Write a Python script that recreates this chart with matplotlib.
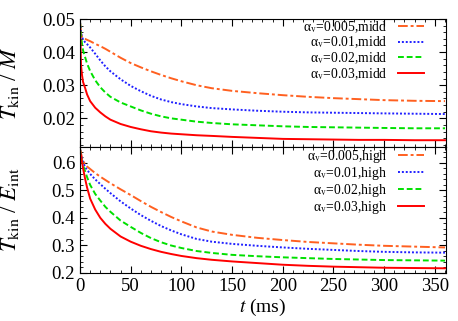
import numpy as np
import matplotlib
matplotlib.use('Agg')
import matplotlib.pyplot as plt
from matplotlib.ticker import MultipleLocator

plt.rcParams['font.family'] = ['Liberation Serif', 'DejaVu Serif']
plt.rcParams['mathtext.fontset'] = 'stix'

# time grid (ms)
t = [0, 1, 2, 3, 5, 7, 10, 15, 20, 25, 30, 40, 50, 60, 70, 80, 90, 100,
     115, 130, 150, 175, 200, 225, 250, 275, 300, 330, 360]

# T_kin / M  (middle resolution)
mid_005 = [0.049, 0.046, 0.0445, 0.0442, 0.044, 0.0437, 0.0433, 0.0425, 0.0418, 0.041, 0.0401, 0.0383, 0.0367,
           0.0354, 0.0342, 0.0331, 0.0321, 0.0312, 0.03, 0.0291, 0.0283, 0.0276, 0.027, 0.0265, 0.0261, 0.0258,
           0.0255, 0.0253, 0.0252]
mid_01 = [0.049, 0.046, 0.0445, 0.0438, 0.043, 0.0424, 0.0414, 0.0395, 0.0375, 0.0357, 0.0342, 0.0318, 0.0298,
          0.0282, 0.0268, 0.0257, 0.0249, 0.0243, 0.0236, 0.0231, 0.0227, 0.0223, 0.022, 0.0218, 0.0217, 0.0216,
          0.0215, 0.0214, 0.0213]
mid_02 = [0.049, 0.045, 0.0425, 0.0405, 0.0385, 0.0365, 0.0343, 0.0315, 0.0294, 0.0278, 0.0265, 0.0248, 0.0236,
          0.0224, 0.0214, 0.0206, 0.02, 0.0196, 0.019, 0.0186, 0.0182, 0.0179, 0.0176, 0.0174, 0.0173, 0.0172,
          0.0171, 0.017, 0.017]
mid_03 = [0.049, 0.036, 0.033, 0.031, 0.0292, 0.0272, 0.0252, 0.0232, 0.0218, 0.0206, 0.0196, 0.0183, 0.0174,
          0.0167, 0.0161, 0.0157, 0.0154, 0.0152, 0.0149, 0.0147, 0.0144, 0.0141, 0.0138, 0.0137, 0.0136, 0.0135,
          0.0135, 0.0134, 0.0134]

# T_kin / E_int  (high resolution)
high_005 = [0.65, 0.635, 0.62, 0.608, 0.595, 0.587, 0.578, 0.563, 0.55, 0.538, 0.526, 0.504, 0.483, 0.461, 0.44,
            0.421, 0.403, 0.387, 0.365, 0.35, 0.338, 0.327, 0.319, 0.312, 0.307, 0.302, 0.298, 0.295, 0.292]
high_01 = [0.65, 0.632, 0.615, 0.603, 0.585, 0.575, 0.56, 0.54, 0.523, 0.506, 0.49, 0.46, 0.434, 0.41, 0.389,
           0.37, 0.354, 0.34, 0.323, 0.313, 0.305, 0.298, 0.292, 0.287, 0.283, 0.279, 0.276, 0.274, 0.273]
high_02 = [0.65, 0.625, 0.605, 0.592, 0.57, 0.548, 0.52, 0.487, 0.463, 0.44, 0.422, 0.39, 0.367, 0.345, 0.326,
           0.311, 0.299, 0.29, 0.279, 0.272, 0.265, 0.26, 0.256, 0.253, 0.25, 0.248, 0.246, 0.245, 0.244]
high_03 = [0.65, 0.625, 0.604, 0.58, 0.543, 0.51, 0.47, 0.43, 0.4, 0.378, 0.36, 0.332, 0.313, 0.298, 0.286,
           0.276, 0.268, 0.261, 0.253, 0.247, 0.241, 0.235, 0.229, 0.225, 0.222, 0.22, 0.218, 0.217, 0.216]

alphas = ['0.005', '0.01', '0.02', '0.03']
colors = ['#ff6020', '#2020ff', '#00e000', '#ff0000']
styles = [(0, (5, 1.5, 1.5, 1.5)), (0, (1, 1)), (0, (3, 1.5)), '-']

fig = plt.figure(figsize=(4.58, 3.21), dpi=100)
ax1 = fig.add_axes([0.1747, 0.5436, 0.7991, 0.3972])
ax2 = fig.add_axes([0.1747, 0.1505, 0.7991, 0.3931])

for a, y, c, ls in zip(alphas, [mid_005, mid_01, mid_02, mid_03], colors, styles):
    ax1.plot(t, y, color=c, ls=ls, lw=1.4, label=r'α$_{\rm v}$=%s,midd' % a)
for a, y, c, ls in zip(alphas, [high_005, high_01, high_02, high_03], colors, styles):
    ax2.plot(t, y, color=c, ls=ls, lw=1.4, label=r'α$_{\rm v}$=%s,high' % a)

for ax, ytop in [(ax1, 1.0), (ax2, 0.99)]:
    ax.set_xlim(0, 361)
    ax.xaxis.set_major_locator(MultipleLocator(50))
    ax.xaxis.set_minor_locator(MultipleLocator(10))
    ax.tick_params(which='both', direction='in', top=True, right=True, labelsize=13.5)
    ax.tick_params(which='major', length=5)
    ax.tick_params(which='minor', length=2.5)
    ax.legend(loc='upper right', bbox_to_anchor=(0.94, ytop), frameon=False, markerfirst=False,
              fontsize=9.8, handlelength=1.9, labelspacing=0.0, borderaxespad=0, borderpad=0,
              handletextpad=0.8)
    ax.yaxis.set_label_coords(-0.16, 0.5)

ax1.set_ylim(0.0115, 0.05)
ax1.yaxis.set_minor_locator(MultipleLocator(0.002))
ax1.set_yticks([0.02, 0.03, 0.04, 0.05])
ax1.tick_params(labelbottom=False)
ax1.set_ylabel(r'$T_{\rm kin}$ / $M$', fontsize=16.5)

ax2.set_ylim(0.2, 0.66)
ax2.yaxis.set_major_locator(MultipleLocator(0.1))
ax2.yaxis.set_minor_locator(MultipleLocator(0.02))
ax2.set_ylabel(r'$T_{\rm kin}$ / $E_{\rm int}$', fontsize=16.5)
ax2.set_xlabel(r'$t$ (ms)', fontsize=14, labelpad=2)

plt.savefig('out.png', dpi=100)
